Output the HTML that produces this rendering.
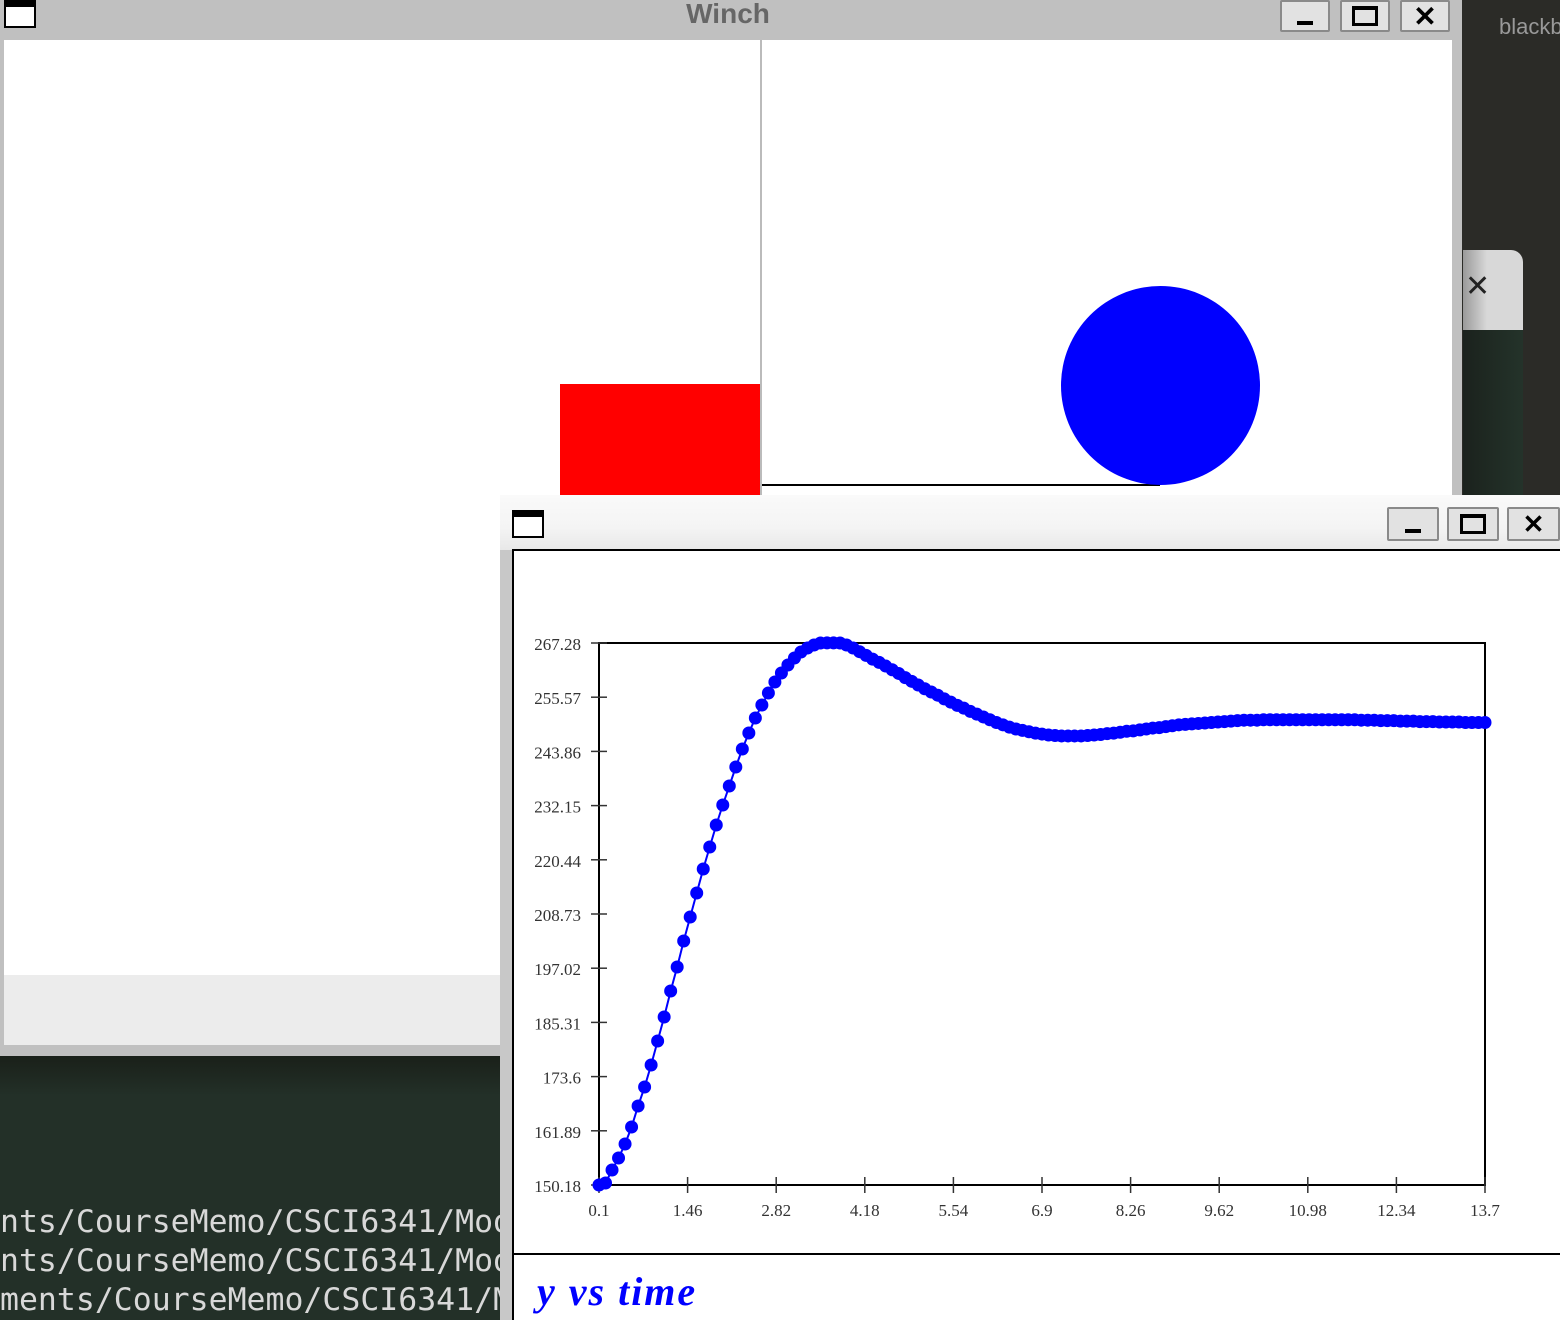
<!DOCTYPE html>
<html><head><meta charset="utf-8"><style>
*{margin:0;padding:0;box-sizing:border-box}
body{width:1560px;height:1320px;overflow:hidden;position:relative;background:#2b2b27;font-family:"Liberation Sans",sans-serif}
.abs{position:absolute}
.btn{position:absolute;background:#e2e2e2;border:2px solid #8a8a8a;border-radius:2px;display:flex;align-items:center;justify-content:center;font-weight:bold}
.term{position:absolute;left:0;font-family:"DejaVu Sans Mono",monospace;font-size:31.5px;color:#d8d8d8;white-space:nowrap}
</style></head><body>
<div class="abs" style="left:1462px;top:0;width:98px;height:1320px;background:#2b2b27"></div>
<div class="abs" style="left:1499px;top:14px;color:#999;font-size:22px">blackb</div>
<div class="abs" style="left:1463px;top:250px;width:60px;height:80px;background:linear-gradient(90deg,#9a9a9a,#d8d8d8 40%);border-radius:0 12px 0 0"></div>
<div class="abs" style="left:1465px;top:272px;font-size:30px;color:#222;line-height:30px">✕</div>
<div class="abs" style="left:1463px;top:330px;width:60px;height:990px;background:linear-gradient(90deg,#1b221d,#24332a)"></div>
<div class="abs" style="left:0;top:1056px;width:1462px;height:264px;background:linear-gradient(#1a2019,#233028 40px)"></div>
<div class="term" style="top:1204px">nts/CourseMemo/CSCI6341/Mod</div>
<div class="term" style="top:1243px">nts/CourseMemo/CSCI6341/Mod</div>
<div class="term" style="top:1282px">ments/CourseMemo/CSCI6341/M</div>

<div class="abs" style="left:0;top:0;width:1462px;height:1056px;background:#c0c0c0">
  <div class="abs" style="left:4px;top:0;width:32px;height:28px;border:2px solid #000;border-top:7px solid #000;background:#fff"></div>
  <div class="abs" style="left:0;width:1456px;top:-2px;text-align:center;font-size:28px;font-weight:bold;color:#666">Winch</div>
  <div class="btn" style="left:1280px;top:0;width:50px;height:32px"><div style="width:16px;height:4px;background:#000;margin-top:14px"></div></div>
  <div class="btn" style="left:1340px;top:0;width:50px;height:32px"><div style="width:26px;height:20px;border:3px solid #000;border-top-width:4px"></div></div>
  <div class="btn" style="left:1400px;top:0;width:50px;height:32px;font-size:28px">✕</div>
  <div class="abs" style="left:4px;top:40px;width:1448px;height:935px;background:#fff"></div>
  <div class="abs" style="left:4px;top:975px;width:1448px;height:70px;background:#ececec"></div>
  <div class="abs" style="left:760px;top:40px;width:2px;height:455px;background:#bbb"></div>
  <div class="abs" style="left:560px;top:384px;width:200px;height:111px;background:#f00"></div>
  <div class="abs" style="left:762px;top:484px;width:398px;height:2px;background:#000"></div>
  <div class="abs" style="left:1061px;top:286px;width:199px;height:199px;border-radius:50%;background:#00f"></div>
</div>

<div class="abs" style="left:500px;top:495px;width:1060px;height:825px;background:#c8c8c8">
  <div class="abs" style="left:0;top:0;width:1060px;height:55px;background:linear-gradient(#fafafa,#f4f4f4 60%,#e8e8e8)"></div>
  <div class="abs" style="left:12px;top:15px;width:32px;height:28px;border:2px solid #000;border-top:7px solid #000;background:#fff"></div>
  <div class="btn" style="left:887px;top:12px;width:52px;height:34px"><div style="width:16px;height:4px;background:#000;margin-top:14px"></div></div>
  <div class="btn" style="left:947px;top:12px;width:52px;height:34px"><div style="width:26px;height:20px;border:3px solid #000;border-top-width:4px"></div></div>
  <div class="btn" style="left:1007px;top:12px;width:53px;height:34px;font-size:26px">✕</div>
  <div class="abs" style="left:12px;top:54px;width:1048px;height:771px;background:#fff;border-left:2px solid #000;border-top:2px solid #000"></div>
</div>
<svg class="abs" style="left:0;top:0" width="1560" height="1320">
<g id="axes"></g><g id="marks"></g>
<line x1="513" y1="1254" x2="1560" y2="1254" stroke="#000" stroke-width="2"/>
<text x="537" y="1305" font-family="Liberation Serif,serif" font-style="italic" font-weight="bold" font-size="40" letter-spacing="2" fill="#00f">y vs time</text>
</svg>
<script>
const yTicks=["150.18","161.89","173.6","185.31","197.02","208.73","220.44","232.15","243.86","255.57","267.28"];
const xTicks=["0.1","1.46","2.82","4.18","5.54","6.9","8.26","9.62","10.98","12.34","13.7"];
const yValues=[150.18,150.61,153.42,156.01,159.04,162.71,167.25,171.35,176.11,181.29,
186.48,192.10,197.28,202.90,208.08,213.27,218.45,223.21,227.96,232.28,
236.38,240.49,244.38,247.84,251.08,253.89,256.48,258.86,260.80,262.53,
264.04,265.34,266.20,266.85,267.28,267.3,267.3,267.28,266.85,266.20,
265.4,264.6,263.8,263.1,262.3,261.5,260.7,259.8,259.0,258.2,
257.4,256.7,256.0,255.2,254.5,253.8,253.2,252.5,251.9,251.3,
250.7,250.1,249.6,249.1,248.7,248.4,248.1,247.8,247.6,247.4,
247.3,247.2,247.2,247.2,247.2,247.3,247.4,247.5,247.7,247.8,
248.0,248.2,248.3,248.5,248.7,248.9,249.0,249.2,249.4,249.6,
249.7,249.8,249.9,250.0,250.1,250.2,250.3,250.4,250.5,250.6,
250.6,250.6,250.7,250.7,250.7,250.7,250.7,250.7,250.7,250.7,
250.7,250.7,250.7,250.7,250.7,250.7,250.7,250.6,250.6,250.6,
250.5,250.5,250.5,250.4,250.4,250.4,250.3,250.3,250.3,250.2,
250.2,250.2,250.2,250.1,250.1,250.1,250.1];
const times=yValues.map((_,i)=>+(0.1+i*0.1).toFixed(1));
const NS="http://www.w3.org/2000/svg";
const X0=599,X1=1485,Y0=1185,Y1=643;
const xMin=0.1,xMax=13.7,yMin=150.18,yMax=267.28;
const sx=t=>X0+(t-xMin)/(xMax-xMin)*(X1-X0);
const sy=v=>Y0-(v-yMin)/(yMax-yMin)*(Y0-Y1);
function mk(tag,attrs,parent){const e=document.createElementNS(NS,tag);for(const k in attrs)e.setAttribute(k,attrs[k]);parent.appendChild(e);return e;}
const ax=document.getElementById('axes'),mg=document.getElementById('marks');
const frame=mk('rect',{x:X0,y:Y1,width:X1-X0,height:Y0-Y1,fill:'none',stroke:'#000','stroke-width':2},ax);


yTicks.forEach(s=>{const v=parseFloat(s),y=sy(v);
 const l=mk('line',{x1:X0-8,x2:X0+8,y1:y,y2:y,stroke:'#333','stroke-width':1.5},ax);
 
 
 const t=mk('text',{x:X0-18,y:y+7,'text-anchor':'end','font-family':'Liberation Serif,serif','font-size':17,fill:'#333'},ax);t.textContent=s;
 
 });
xTicks.forEach(s=>{const v=parseFloat(s),x=sx(v);
 const l=mk('line',{x1:x,x2:x,y1:Y0-8,y2:Y0+8,stroke:'#333','stroke-width':1.5},ax);
 
 
 const t=mk('text',{x:x,y:Y0+31,'text-anchor':'middle','font-family':'Liberation Serif,serif','font-size':17,fill:'#333'},ax);t.textContent=s;
 
 });
const pl=mk('polyline',{points:yValues.map((v,i)=>sx(times[i])+','+sy(v)).join(' '),fill:'none',stroke:'#00f','stroke-width':2},mg);


yValues.forEach((v,i)=>{const c=mk('circle',{cx:sx(times[i]),cy:sy(v),r:6.5,fill:'#00f'},mg);
 
 });
</script>
</body></html>
